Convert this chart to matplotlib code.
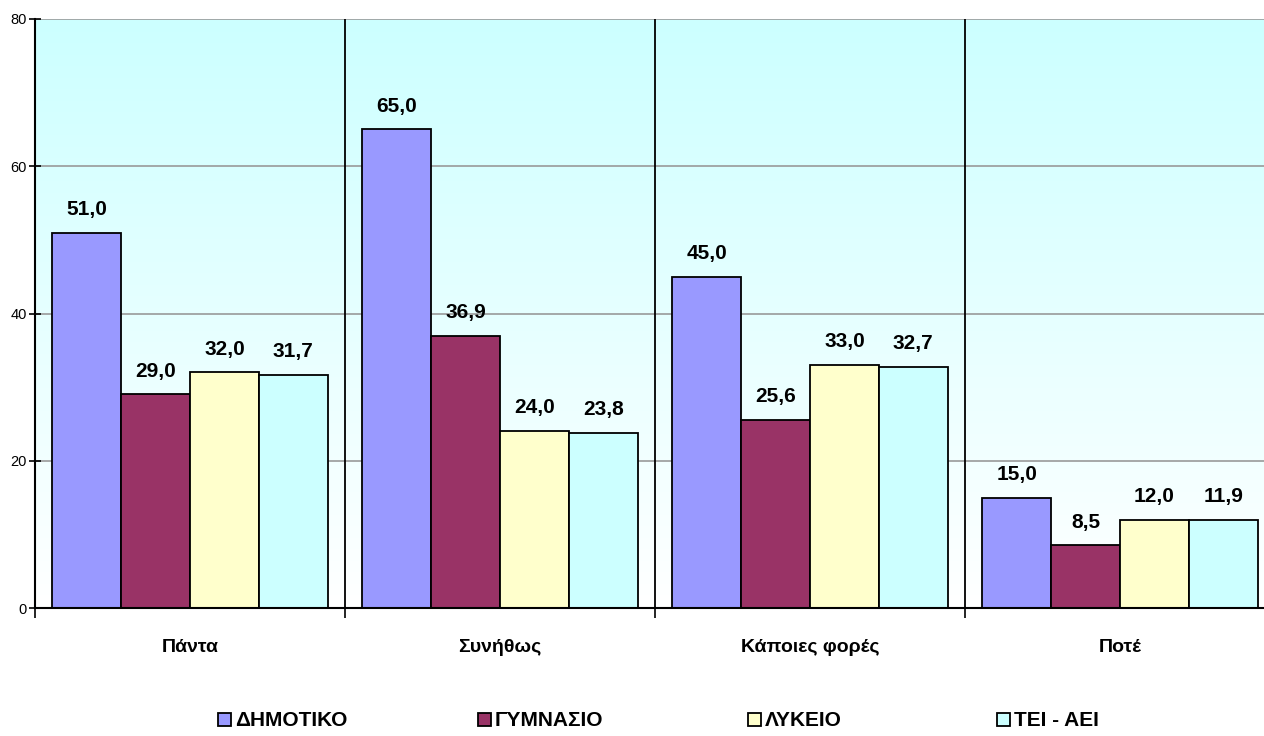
import numpy as np
import matplotlib
matplotlib.use("Agg")
import matplotlib.pyplot as plt
from matplotlib.colors import LinearSegmentedColormap

plt.rcParams['font.family'] = ['Liberation Sans', 'DejaVu Sans']

categories = ['Πάντα', 'Συνήθως', 'Κάποιες φορές', 'Ποτέ']
series = ['ΔΗΜΟΤΙΚΟ', 'ΓΥΜΝΑΣΙΟ', 'ΛΥΚΕΙΟ', 'ΤΕΙ - ΑΕΙ']
dimotiko = [51.0, 65.0, 45.0, 15.0]
gymnasio = [29.0, 36.9, 25.6, 8.5]
lykeio = [32.0, 24.0, 33.0, 12.0]
tei_aei = [31.7, 23.8, 32.7, 11.9]
colors = ['#9999FF', '#993366', '#FFFFCC', '#CCFFFF']

values = [dimotiko, gymnasio, lykeio, tei_aei]

fig = plt.figure(figsize=(12.64, 7.36), dpi=100)
ax = fig.add_axes([35 / 1264, 128 / 736, 1 - 35 / 1264, 589 / 736])

xmax = -0.5 + (1264 - 35) / 310
ax.set_xlim(-0.5, xmax)
ax.set_ylim(0, 80)

# gradient background, cyan at top fading to white
cmap = LinearSegmentedColormap.from_list('bg', ['#FFFFFF', '#CCFFFF'])
grad = np.linspace(0, 1, 256).reshape(-1, 1)
ax.imshow(grad, extent=[-0.5, xmax, 0, 80], origin='lower', aspect='auto',
          cmap=cmap, zorder=0)

for y in [20, 40, 60, 80]:
    ax.axhline(y, color='#999999', lw=1.2, zorder=1)
for x in [0.5, 1.5, 2.5]:
    ax.axvline(x, color='black', lw=1.3, zorder=1)

x = np.arange(len(categories))
w = 0.222
handles = []
for i, (name, vals) in enumerate(zip(series, values)):
    pos = x + (i - 1.5) * w
    bars = ax.bar(pos, vals, w, color=colors[i], edgecolor='black', lw=1.3,
                  label=name, zorder=2)
    handles.append(bars)
    for b, v in zip(bars, vals):
        ax.annotate(f'{v:.1f}'.replace('.', ','),
                    (b.get_x() + b.get_width() / 2, v),
                    xytext=(0, 10), textcoords='offset points',
                    ha='center', va='bottom', fontsize=15,
                    fontweight='bold', zorder=3)

ax.spines['top'].set_visible(False)
ax.spines['right'].set_visible(False)
ax.spines['left'].set_linewidth(1.5)
ax.spines['bottom'].set_linewidth(1.5)

ax.set_yticks([0, 20, 40, 60, 80])
ax.tick_params(axis='y', direction='inout', length=8, width=1.2,
               labelsize=10.5, pad=2)
ax.set_xticks(x)
ax.set_xticklabels(categories, fontsize=14, fontweight='bold')
ax.tick_params(axis='x', which='major', length=0, pad=22)
ax.set_xticks([-0.5, 0.5, 1.5, 2.5], minor=True)
ax.tick_params(axis='x', which='minor', direction='out', length=7, width=1.2)

# one legend per entry, so each sits where the reference has it
legend_x = [218, 478, 748, 997]
for h, name, lx in zip(handles, series, legend_x):
    leg = fig.legend([h], [name], loc='center left',
                     bbox_to_anchor=(lx / 1264, 15 / 736), frameon=False,
                     prop={'size': 15, 'weight': 'bold'},
                     handlelength=0.6, handleheight=0.6, handletextpad=0.2,
                     borderpad=0, borderaxespad=0)

fig.savefig('out.png', dpi=100)
